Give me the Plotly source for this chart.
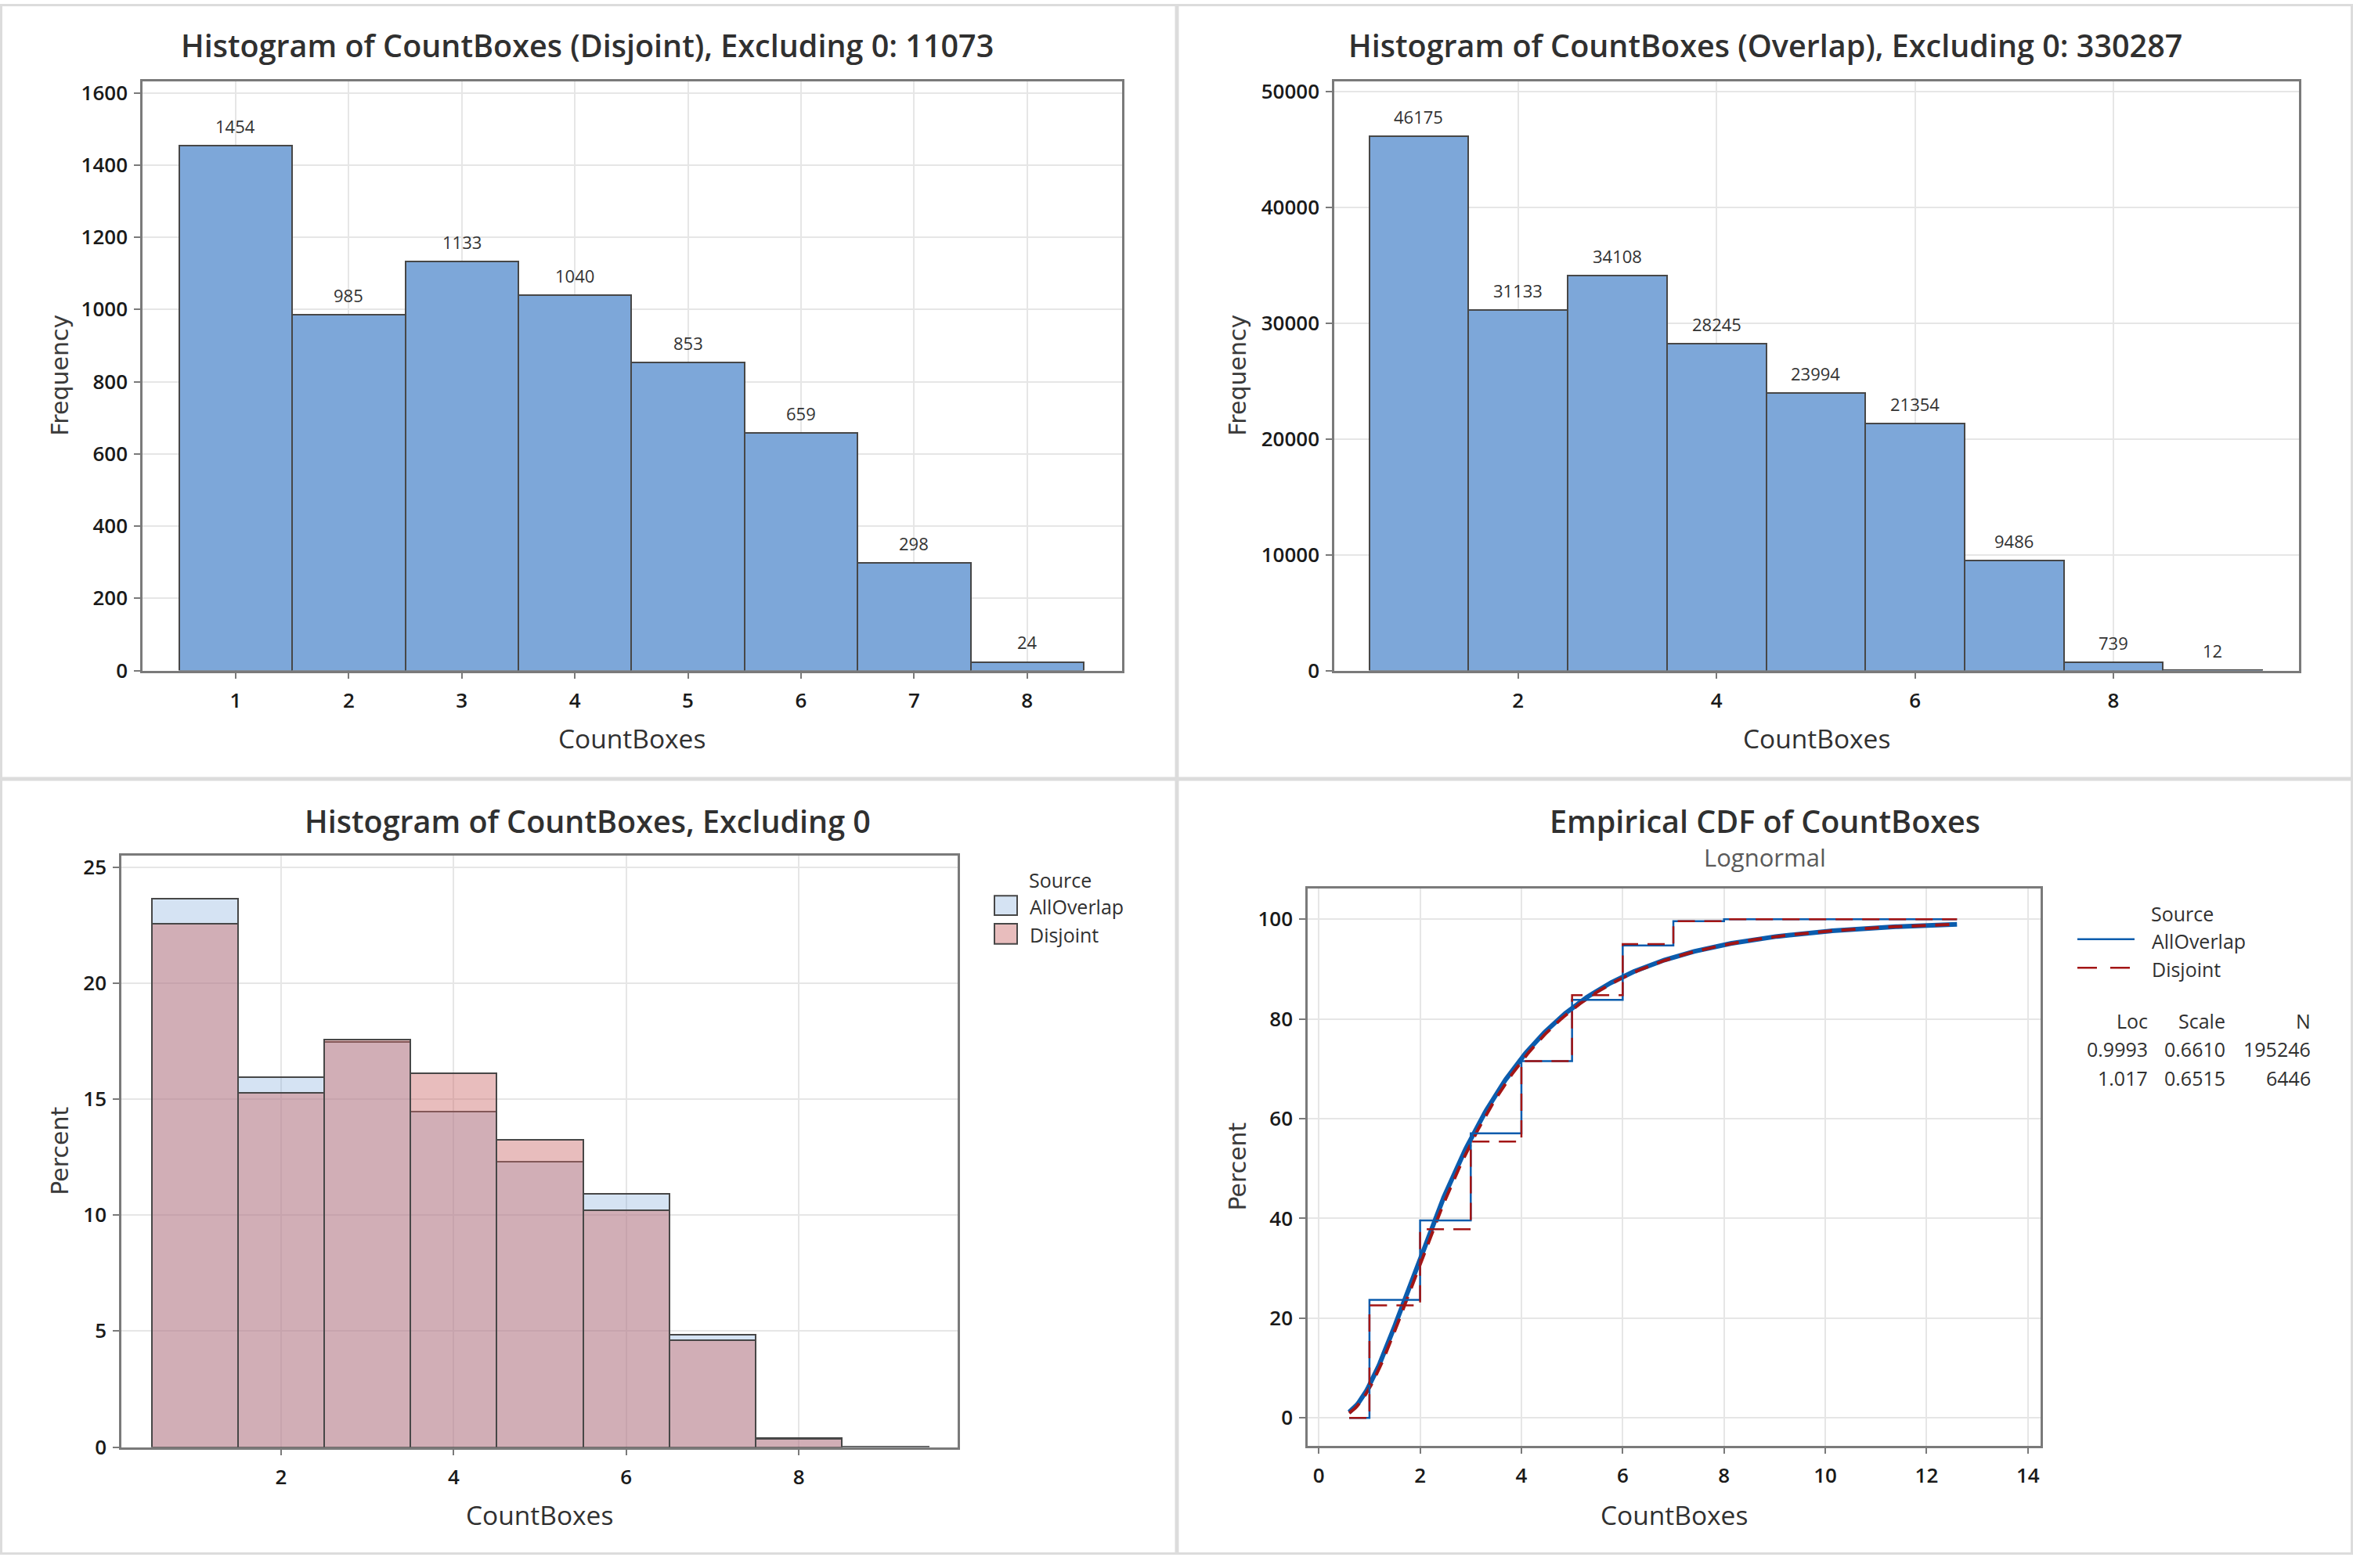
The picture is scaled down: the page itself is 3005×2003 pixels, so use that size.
import math
import numpy as np
import plotly.graph_objects as go

W, H = 3005, 2003

# ---------------- data ----------------
BINS_DISJOINT = [1, 2, 3, 4, 5, 6, 7, 8]
COUNT_DISJOINT = [1454, 985, 1133, 1040, 853, 659, 298, 24]
BINS_OVERLAP = [1, 2, 3, 4, 5, 6, 7, 8, 9]
COUNT_OVERLAP = [46175, 31133, 34108, 28245, 23994, 21354, 9486, 739, 12]

TITLE_DISJOINT = "Histogram of CountBoxes (Disjoint), Excluding 0: 11073"
TITLE_OVERLAP = "Histogram of CountBoxes (Overlap), Excluding 0: 330287"
TITLE_PCT = "Histogram of CountBoxes, Excluding 0"
TITLE_CDF = "Empirical CDF of CountBoxes"
SUBTITLE_CDF = "Lognormal"
X_TITLE = "CountBoxes"
SOURCES = ["AllOverlap", "Disjoint"]
LOC = [0.9993, 1.017]
LOC_LABELS = ["0.9993", "1.017"]
SCALE = [0.6610, 0.6515]
N_OBS = [195246, 6446]
CDF_X_START = 0.6
CDF_X_END = 12.6

TICKS_P1_X = [1, 2, 3, 4, 5, 6, 7, 8]
TICKS_P1_Y = [0, 200, 400, 600, 800, 1000, 1200, 1400, 1600]
TICKS_P2_X = [2, 4, 6, 8]
TICKS_P2_Y = [0, 10000, 20000, 30000, 40000, 50000]
TICKS_P3_X = [2, 4, 6, 8]
TICKS_P3_Y = [0, 5, 10, 15, 20, 25]
TICKS_P4_X = [0, 2, 4, 6, 8, 10, 12, 14]
TICKS_P4_Y = [0, 20, 40, 60, 80, 100]

# ---------------- styles ----------------
FONT = "Open Sans"
YFONT = "DejaVu Sans"
TXT = "#303030"
BAR_BLUE = "#7DA7D9"
BAR_EDGE = "#474747"
OV_FILL = "rgba(123,167,217,0.32)"
DJ_FILL = "rgba(204,108,108,0.45)"
CDF_BLUE = "#0B5CAD"
CDF_RED = "#A31515"


def px(x):
    return x / W


def py(y):
    return 1 - y / H


fig = go.Figure()

# Panel 1
fig.add_trace(go.Bar(x=BINS_DISJOINT, y=COUNT_DISJOINT, width=1,
                     marker=dict(color=BAR_BLUE, line=dict(color=BAR_EDGE, width=2)),
                     xaxis="x", yaxis="y", showlegend=False))
# Panel 2
fig.add_trace(go.Bar(x=BINS_OVERLAP, y=COUNT_OVERLAP, width=1,
                     marker=dict(color=BAR_BLUE, line=dict(color=BAR_EDGE, width=2)),
                     xaxis="x2", yaxis="y2", showlegend=False))

# Panel 3 (percent)
tot_ov = sum(COUNT_OVERLAP)
tot_dj = sum(COUNT_DISJOINT)
pct_ov = [c / tot_ov * 100 for c in COUNT_OVERLAP]
pct_dj = [c / tot_dj * 100 for c in COUNT_DISJOINT]
fig.add_trace(go.Bar(x=BINS_OVERLAP, y=pct_ov, width=1, name=SOURCES[0],
                     marker=dict(color=OV_FILL, line=dict(color=BAR_EDGE, width=2)),
                     xaxis="x3", yaxis="y3", showlegend=False))
fig.add_trace(go.Bar(x=BINS_DISJOINT, y=pct_dj, width=1, name=SOURCES[1],
                     marker=dict(color=DJ_FILL, line=dict(color=BAR_EDGE, width=2)),
                     xaxis="x3", yaxis="y3", showlegend=False))


# Panel 4 (CDF): fitted lognormal from the printed Loc / Scale
def lognorm_cdf(xs, loc, scale):
    return [50.0 * (1 + math.erf((math.log(v) - loc) / (scale * math.sqrt(2)))) for v in xs]


xs_fit = np.linspace(CDF_X_START, CDF_X_END, 400)
fit_ov = lognorm_cdf(xs_fit, LOC[0], SCALE[0])
fit_dj = lognorm_cdf(xs_fit, LOC[1], SCALE[1])

cum_ov = np.cumsum(pct_ov).tolist()
cum_dj = np.cumsum(pct_dj).tolist()
step_x_ov = [CDF_X_START] + BINS_OVERLAP + [CDF_X_END]
step_y_ov = [0] + cum_ov + [cum_ov[-1]]
step_x_dj = [CDF_X_START] + BINS_DISJOINT + [CDF_X_END]
step_y_dj = [0] + cum_dj + [cum_dj[-1]]

fig.add_trace(go.Scatter(x=xs_fit, y=fit_ov, mode="lines",
                         line=dict(color=CDF_BLUE, width=6),
                         xaxis="x4", yaxis="y4", showlegend=False))
fig.add_trace(go.Scatter(x=xs_fit, y=fit_dj, mode="lines",
                         line=dict(color=CDF_RED, width=4, dash="18px,12px"),
                         xaxis="x4", yaxis="y4", showlegend=False))
fig.add_trace(go.Scatter(x=step_x_ov, y=step_y_ov, mode="lines", line_shape="hv",
                         line=dict(color=CDF_BLUE, width=2.5),
                         xaxis="x4", yaxis="y4", showlegend=False))
fig.add_trace(go.Scatter(x=step_x_dj, y=step_y_dj, mode="lines", line_shape="hv",
                         line=dict(color=CDF_RED, width=2.5, dash="22px,12px"),
                         xaxis="x4", yaxis="y4", showlegend=False))


# ---------------- axes ----------------
def axis(domain, rng, ticks, anchor, standoff):
    return dict(domain=domain, range=rng, tickvals=ticks,
                ticktext=[str(t) for t in ticks], anchor=anchor,
                showline=True, mirror=True, linecolor="#7a7a7a", linewidth=2.5,
                showgrid=True, gridcolor="#e6e6e6", gridwidth=2,
                zeroline=False, ticks="outside", ticklen=8, tickwidth=2,
                tickcolor="#7a7a7a", ticklabelstandoff=standoff,
                tickfont=dict(family=FONT, size=26, color="#1a1a1a", weight=600),
                fixedrange=True)


P1X = [px(182), px(1433)]
P1Y = [py(861), py(100)]
P2X = [px(1704), px(2936)]
P2Y = [py(861), py(100)]
P3X = [px(155), px(1223)]
P3Y = [py(1864), py(1100)]
P4X = [px(1670), px(2606)]
P4Y = [py(1862), py(1143)]

fig.update_layout(
    width=W, height=H, margin=dict(l=0, r=0, t=0, b=0),
    paper_bgcolor="white", plot_bgcolor="white",
    barmode="overlay", bargap=0, showlegend=False,
    xaxis=axis(P1X, [0.176, 8.84], TICKS_P1_X, "y", 6),
    yaxis=axis(P1Y, [0, 1632], TICKS_P1_Y, "x", 3),
    xaxis2=axis(P2X, [0.148, 9.87], TICKS_P2_X, "y2", 6),
    yaxis2=axis(P2Y, [0, 50900], TICKS_P2_Y, "x2", 3),
    xaxis3=axis(P3X, [0.15, 9.84], TICKS_P3_X, "y3", 6),
    yaxis3=axis(P3Y, [0, 25.5], TICKS_P3_Y, "x3", 3),
    xaxis4=axis(P4X, [-0.22, 14.25], TICKS_P4_X, "y4", 6),
    yaxis4=axis(P4Y, [-5.56, 106.1], TICKS_P4_Y, "x4", 3),
)

ann = []


def text(s, x, y, size, color=TXT, family=FONT, xanchor="center", yanchor="middle",
         angle=0, weight=400):
    ann.append(dict(text=s, x=px(x), y=py(y), xref="paper", yref="paper",
                    showarrow=False, xanchor=xanchor, yanchor=yanchor, textangle=angle,
                    font=dict(family=family, size=size, color=color, weight=weight)))


# titles
text(TITLE_DISJOINT, 750, 54, 39.5, weight=600)
text(TITLE_OVERLAP, 2254, 54, 39.5, weight=600)
text(TITLE_PCT, 750, 1056, 39.5, weight=600)
text(TITLE_CDF, 2254, 1056, 39.5, weight=600)
text(SUBTITLE_CDF, 2254, 1102, 31, color="#5a5a5a")
# axis titles
text(X_TITLE, 807, 948, 33.5)
text(X_TITLE, 2320, 948, 33.5)
text(X_TITLE, 689, 1951, 33.5)
text(X_TITLE, 2138, 1951, 33.5)
text("Frequency", 77, 480, 30, family=YFONT, angle=-90, color="#3a3a3a")
text("Frequency", 1581, 480, 30, family=YFONT, angle=-90, color="#3a3a3a")
text("Percent", 77, 1482, 30, family=YFONT, angle=-90, color="#3a3a3a")
text("Percent", 1581, 1502, 30, family=YFONT, angle=-90, color="#3a3a3a")

# bar value labels
for xv, yv in zip(BINS_DISJOINT, COUNT_DISJOINT):
    ann.append(dict(text=str(yv), x=xv, y=yv, xref="x", yref="y", showarrow=False,
                    yanchor="bottom", yshift=8, font=dict(family=FONT, size=22, color="#333333")))
for xv, yv in zip(BINS_OVERLAP, COUNT_OVERLAP):
    ann.append(dict(text=str(yv), x=xv, y=yv, xref="x2", yref="y2", showarrow=False,
                    yanchor="bottom", yshift=8, font=dict(family=FONT, size=22, color="#333333")))

# legend panel 3
text("Source", 1354, 1131, 25)
text(SOURCES[0], 1313, 1166, 25, xanchor="left")
text(SOURCES[1], 1313, 1202, 25, xanchor="left")
# legend panel 4
text("Source", 2787, 1175, 25)
text(SOURCES[0], 2746, 1210, 25, xanchor="left")
text(SOURCES[1], 2746, 1247, 25, xanchor="left")
text("Loc", 2745, 1313, 25, xanchor="right")
text("Scale", 2844, 1313, 25, xanchor="right")
text("N", 2953, 1313, 25, xanchor="right")
for i, yrow in enumerate([1350, 1387]):
    text(LOC_LABELS[i], 2745, yrow, 25, xanchor="right")
    text(f"{SCALE[i]:.4f}", 2844, yrow, 25, xanchor="right")
    text(str(N_OBS[i]), 2953, yrow, 25, xanchor="right")

shapes = []
# legend swatches panel 3
shapes.append(dict(type="rect", xref="paper", yref="paper", x0=px(1270), x1=px(1299),
                   y0=py(1177), y1=py(1152), fillcolor=OV_FILL,
                   line=dict(color=BAR_EDGE, width=2)))
shapes.append(dict(type="rect", xref="paper", yref="paper", x0=px(1270), x1=px(1299),
                   y0=py(1214), y1=py(1188), fillcolor=DJ_FILL,
                   line=dict(color=BAR_EDGE, width=2)))
# legend lines panel 4
shapes.append(dict(type="line", xref="paper", yref="paper", x0=px(2653), x1=px(2726),
                   y0=py(1208), y1=py(1208), line=dict(color=CDF_BLUE, width=2.5)))
shapes.append(dict(type="line", xref="paper", yref="paper", x0=px(2653), x1=px(2726),
                   y0=py(1245), y1=py(1245), line=dict(color=CDF_RED, width=2.5, dash="25px,17px")))
# panel separators and frame
SEP = "#dcdcdc"
shapes.append(dict(type="line", xref="paper", yref="paper", x0=px(1503), x1=px(1503),
                   y0=0, y1=1, line=dict(color=SEP, width=5)))
shapes.append(dict(type="line", xref="paper", yref="paper", x0=0, x1=1,
                   y0=py(1001), y1=py(1001), line=dict(color=SEP, width=5)))
shapes.append(dict(type="rect", xref="paper", yref="paper", x0=px(1.5), x1=px(3003.5),
                   y0=py(2001.5), y1=py(1.5), line=dict(color=SEP, width=3)))

fig.update_layout(annotations=ann, shapes=shapes)

POST = ("document.documentElement.style.margin='0px';"
        "document.documentElement.style.padding='0px';"
        "document.documentElement.style.overflow='hidden';"
        "document.body.style.margin='0px';"
        "document.body.style.padding='0px';"
        "document.body.style.overflow='hidden';")

fig.write_html("out.html", config={"displayModeBar": False}, post_script=POST)
